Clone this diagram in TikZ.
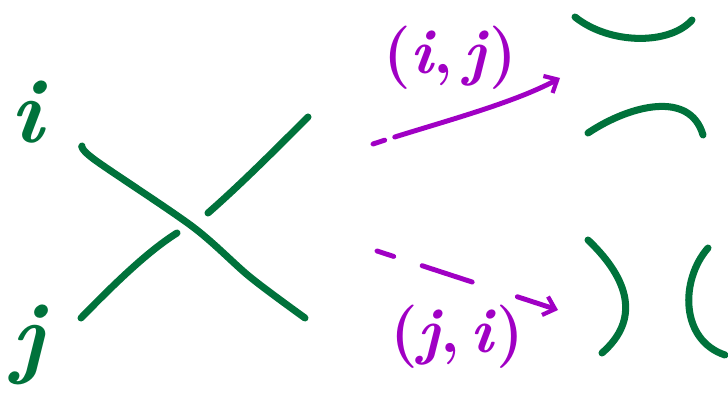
\documentclass[tikz,border=0pt]{standalone}
\usepackage{amsmath}
\usetikzlibrary{arrows.meta}
\definecolor{strandgreen}{RGB}{0,114,59}
\definecolor{swappurple}{RGB}{160,0,196}

\begin{document}
\begin{tikzpicture}[
  x=0.02cm, y=-0.02cm,
  strand/.style={draw=strandgreen, line width=4pt, line cap=round},
  move/.style={draw=swappurple, line width=2.8pt, line cap=round, -{Straight Barb[length=6pt,width=11pt,line width=2.4pt]}},
  lab/.style={text=strandgreen, font=\fontsize{52}{56}\selectfont\bfseries\itshape},
  tag/.style={text=swappurple, font=\fontsize{36}{40}\selectfont\bfseries}
]
\useasboundingbox (0,0) rectangle (728,402);

% strand labels
\node[lab] (li) at (27,112) {i};
\node[lab] (lj) at (28,345) {j};

% the crossing
\draw[strand] plot[smooth] coordinates {(82,146) (95,160) (193,227) (250,277) (305,318)};
\draw[strand] (81,318) .. controls (120,278) and (150,250) .. (177,233);
\draw[strand] (208,213) .. controls (240,185) and (275,150) .. (308,117);

% the two smoothings
\coordinate (a1) at (373,144);
\coordinate (a2) at (560,78);
\draw[move, dash pattern=on 7pt off 6pt on 300pt] (a1) .. controls (430,125) and (510,105) .. (a2);
\node[tag] (ij) at (450,58) {(\textit{i},\,\textit{j})};

\coordinate (b1) at (377,251);
\coordinate (b2) at (558,310);
\draw[move, dash pattern=on 10pt off 17pt on 30pt off 27pt on 40pt] (b1) -- (b2);
\node[tag] (ji) at (457,337) {(\textit{j},\,\textit{i})};

% horizontal smoothing
\draw[strand] (575,17) .. controls (610,45) and (670,45) .. (692,20);
\draw[strand] (588,133) .. controls (630,105) and (690,90) .. (703,135);

% vertical smoothing
\draw[strand] (588,240) .. controls (630,280) and (640,320) .. (602,353);
\draw[strand] (708,248) .. controls (680,280) and (680,340) .. (725,355);
\end{tikzpicture}
\end{document}
